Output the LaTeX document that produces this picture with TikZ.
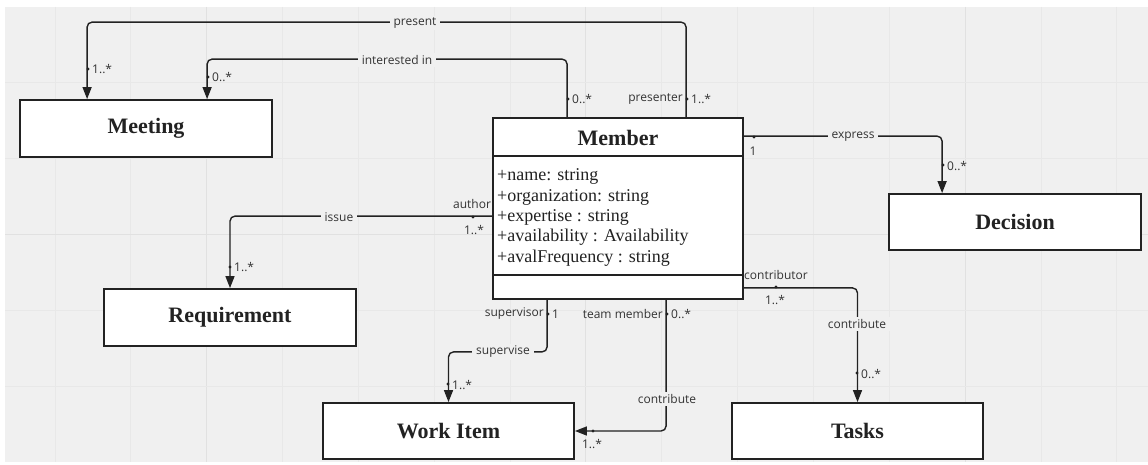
\documentclass[tikz,border=0pt]{standalone}
\usepackage{fontspec}
\setmainfont{Liberation Serif}
\newfontfamily\labfont{Open Sans}
\usetikzlibrary{arrows.meta}
\definecolor{bg}{RGB}{240,240,240}
\definecolor{gridminor}{RGB}{232,232,232}
\definecolor{gridmajor}{RGB}{225,225,225}
\definecolor{linec}{RGB}{34,34,34}
\definecolor{labc}{RGB}{51,51,51}
\tikzset{
  classbox/.style={draw=linec, line width=1.8pt, fill=white, inner sep=0pt,
    font=\fontsize{22}{26}\selectfont\bfseries, text=linec},
  assoc/.style={draw=linec, line width=1.4pt, rounded corners=5pt,
    -{Triangle[width=9pt,length=12pt]}},
  lbl/.style={font=\labfont\fontsize{12}{14}\selectfont, text=labc, inner sep=1pt},
  onl/.style={lbl, fill=bg, inner xsep=4pt, inner ysep=2pt},
  enddot/.style={fill=linec}
}
\begin{document}
\begin{tikzpicture}[x=1pt,y=-1pt]
\useasboundingbox (0,0) rectangle (1148,465);
\fill[white] (0,0) rectangle (1148,465);
\fill[bg] (5,7) rectangle (1148,462);
% grid
\foreach \k in {1,...,15} {
  \pgfmathsetmacro\xx{-20.85+75.85*\k}
  \ifnum\k=3 \def\gc{gridmajor}\else\ifnum\k=8 \def\gc{gridmajor}\else\ifnum\k=13 \def\gc{gridmajor}\else\def\gc{gridminor}\fi\fi\fi
  \draw[\gc, line width=1pt] (\xx,7) -- (\xx,462);
}
\foreach \k in {1,...,5} {
  \pgfmathsetmacro\yy{7+75.85*\k}
  \ifnum\k=3 \def\gc{gridmajor}\else\def\gc{gridminor}\fi
  \draw[\gc, line width=1pt] (5,\yy) -- (1148,\yy);
}

% classes
\node[classbox, minimum width=252pt, minimum height=57pt] (meeting) at (146,128.5) {Meeting};
\node[classbox, minimum width=252pt, minimum height=56pt] (decision) at (1015,222) {Decision};
\node[classbox, minimum width=252pt, minimum height=57pt] (requirement) at (230,317.5) {Requirement};
\node[classbox, minimum width=251pt, minimum height=56pt] (workitem) at (448.5,431) {Work Item};
\node[classbox, minimum width=251pt, minimum height=56pt] (tasks) at (857.5,431) {Tasks};
\node[classbox, minimum width=250pt, minimum height=181pt] (member) at (618,208.5) {};
\node[font=\fontsize{22}{26}\selectfont\bfseries, text=linec] (membertitle) at (618,137.5) {Member};
\draw[linec, line width=1.8pt] ([yshift=-39pt]member.north west) -- ([yshift=-39pt]member.north east);
\draw[linec, line width=1.8pt] ([yshift=25pt]member.south west) -- ([yshift=25pt]member.south east);
\node[anchor=west, align=left, inner sep=0pt, text=linec,
  font=\fontsize{18}{20.3}\selectfont] (attrs) at (497,217.5)
  {+name: string\\+organization: string\\+expertise : string\\+availability : Availability\\+avalFrequency : string};

% connectors
\draw[assoc] ([xshift=194pt]member.north west) -- ++(0,-95) -| ([xshift=68pt]meeting.north west);
\draw[assoc] ([xshift=75pt]member.north west) -- ++(0,-58) -| ([xshift=188pt]meeting.north west);
\draw[assoc] ([yshift=-19pt]member.north east) -| ([xshift=54pt]decision.north west);
\draw[assoc] ([yshift=-99pt]member.north west) -| (requirement.north);
\draw[assoc] ([yshift=12pt]member.south east) -| (tasks.north);
\draw[assoc] ([xshift=55pt]member.south west) -- ++(0,52) -| (workitem.north);
\draw[assoc] ([xshift=174pt]member.south west) |- (workitem.east);

% labels on lines
\node[onl] (lpresent) at (415,23) {present};
\node[onl] (linterest) at (397,60) {interested in};
\node[onl] (lexpress) at (853,137) {express};
\node[onl] (lissue) at (339,217) {issue};
\node[onl] (lcontrib1) at (857,324) {contribute};
\node[onl] (lsupervise) at (503,352) {supervise};
\node[onl] (lcontrib2) at (667,399) {contribute};

% end dots
\foreach \p in {(568,99),(687,99),(88,69),(208,77),(754,137),(943,165),(473,217),(230,267),(776,287),(857,373),(548,314),(448,384),(667,314),(593,431)}
  \fill[enddot] \p circle (1.6pt);

% multiplicities and roles
\node[lbl, anchor=west] (m1) at (571,99) {0..*};
\node[lbl, anchor=east] (m2) at (684,99) {presenter};
\node[lbl, anchor=west] (m3) at (690,99) {1..*};
\node[lbl, anchor=west] (m4) at (91,69) {1..*};
\node[lbl, anchor=west] (m5) at (211,77) {0..*};
\node[lbl] (m6) at (753,151) {1};
\node[lbl, anchor=west] (m7) at (946,166) {0..*};
\node[lbl] (m8) at (472,204) {author};
\node[lbl] (m9) at (474,230) {1..*};
\node[lbl, anchor=west] (m10) at (233,267) {1..*};
\node[lbl] (m11) at (776,275) {contributor};
\node[lbl] (m12) at (775,300) {1..*};
\node[lbl, anchor=west] (m13) at (860,374) {0..*};
\node[lbl, anchor=east] (m14) at (545,314) {supervisor};
\node[lbl, anchor=west] (m15) at (551,314) {1};
\node[lbl, anchor=west] (m16) at (451,385) {1..*};
\node[lbl, anchor=east] (m17) at (664,314) {team member};
\node[lbl, anchor=west] (m18) at (670,314) {0..*};
\node[lbl] (m19) at (592,444) {1..*};
\end{tikzpicture}
\end{document}
